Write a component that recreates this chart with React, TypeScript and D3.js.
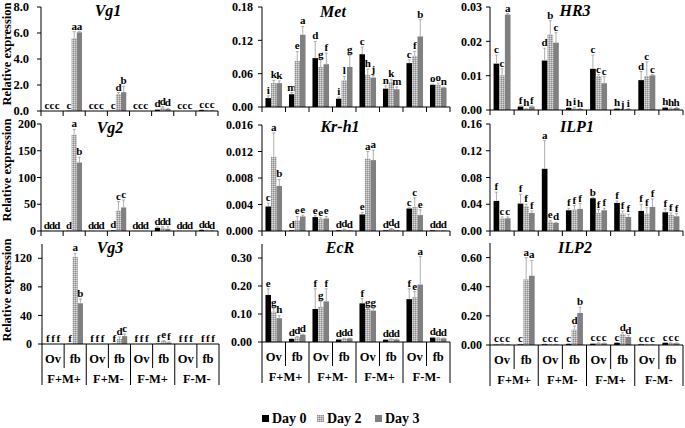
import * as d3 from "d3";

const FONT = "Liberation Serif, Times New Roman, DejaVu Serif, serif";

const treatments = ["F+M+", "F+M-", "F-M+", "F-M-"];
const tissues = ["Ov", "fb"];
const days = ["Day 0", "Day 2", "Day 3"];
const categories = treatments.flatMap((t) => tissues.map((s) => `${t} ${s}`));

// ---- Vg1
const vg1Mean = [[0, 0, 0], [0.02, 5.6, 6.05], [0, 0, 0], [0.02, 1.3, 1.45], [0, 0, 0], [0.1, 0.25, 0.15], [0, 0, 0], [0.08, 0.05, 0.03]];
const vg1Err = [[0, 0, 0], [0, 0.5, 0.06], [0, 0, 0], [0, 0.12, 0.45], [0, 0, 0], [0.02, 0.08, 0.05], [0, 0, 0], [0.01, 0.01, 0.01]];
const vg1Sig = [["c", "c", "c"], ["c", "a", "a"], ["c", "c", "c"], ["c", "d", "b"], ["c", "c", "c"], ["d", "d", "d"], ["c", "c", "c"], ["c", "c", "c"]];
const vg1Ticks = [0, 2, 4, 6, 8];

// ---- Met
const metMean = [[0.016, 0.043, 0.043], [0.023, 0.083, 0.13], [0.088, 0.072, 0.077], [0.015, 0.048, 0.072], [0.095, 0.058, 0.053], [0.033, 0.045, 0.032], [0.079, 0.092, 0.127], [0.04, 0.04, 0.035]];
const metErr = [[0.004, 0.005, 0.004], [0.003, 0.017, 0.015], [0.03, 0.013, 0.02], [0.003, 0.007, 0.021], [0.013, 0.01, 0.004], [0.005, 0.005, 0.004], [0.006, 0.008, 0.03], [0.001, 0.003, 0.001]];
const metSig = [["i", "k", "k"], ["m", "e", "a"], ["d", "g", "f"], ["i", "l", "g"], ["c", "h", "j"], ["n", "k", "m"], ["c", "f", "b"], ["o", "o", "n"]];
const metTicks = [0, 0.06, 0.12, 0.18];

// ---- HR3
const hr3Mean = [[0.0135, 0.0101, 0.0278], [0.001, 0.0004, 0.001], [0.0144, 0.022, 0.0196], [0.0006, 0.0005, 0.0003], [0.012, 0.0099, 0.0078], [0.0004, 0.0001, 0.0003], [0.0087, 0.0099, 0.0101], [0.0007, 0.0005, 0.0006]];
const hr3Err = [[0.0025, 0.0019, 0.0003], [0.0002, 0.0001, 0.0002], [0.0036, 0.004, 0.0029], [0.0001, 0.0003, 0.0001], [0.004, 0.0004, 0.0019], [0.0001, 0, 0.0001], [0.0025, 0.0041, 0.0002], [0.0001, 0.0001, 0.0001]];
const hr3Sig = [["c", "c", "a"], ["f", "h", "f"], ["d", "b", "c"], ["h", "i", "h"], ["c", "c", "c"], ["h", "j", "i"], ["d", "c", "c"], ["h", "h", "h"]];
const hr3Ticks = [0, 0.01, 0.02, 0.03];

// ---- Vg2
const vg2Mean = [[0.3, 0.3, 0.3], [0.5, 180, 128], [0.3, 0.3, 0.3], [1, 38, 44], [0.3, 0.3, 0.3], [6, 6, 4], [0.3, 0.3, 0.3], [2, 1, 0.5]];
const vg2Err = [[0, 0, 0], [0, 10, 10], [0, 0, 0], [0, 17, 14], [0, 0, 0], [2, 2, 4], [0, 0, 0], [0.5, 0.5, 0.3]];
const vg2Sig = [["d", "d", "d"], ["d", "a", "b"], ["d", "d", "d"], ["d", "c", "c"], ["d", "d", "d"], ["d", "d", "d"], ["d", "d", "d"], ["d", "d", "d"]];
const vg2Ticks = [0, 50, 100, 150, 200];

// ---- Kr-h1
const krMean = [[0.0037, 0.0112, 0.0068], [0.0001, 0.0016, 0.0022], [0.0021, 0.0018, 0.0019], [0.0001, 0.0002, 0.0001], [0.0025, 0.0109, 0.0107], [0.0001, 0.0003, 0.0001], [0.0034, 0.0036, 0.0024], [0.0001, 0.0001, 0.0001]];
const krErr = [[0.0005, 0.0036, 0.001], [0, 0.0006, 0.0002], [0.0002, 0.0002, 0.0003], [0, 0.0001, 0], [0.0003, 0.0011, 0.0015], [0, 0.0001, 0], [0.0001, 0.0014, 0.0008], [0, 0, 0]];
const krSig = [["c", "a", "b"], ["d", "e", "e"], ["e", "e", "e"], ["d", "d", "d"], ["e", "a", "a"], ["d", "d", "d"], ["c", "c", "e"], ["d", "d", "d"]];
const krTicks = [0, 0.004, 0.008, 0.012, 0.016];

// ---- ILP1
const ilp1Mean = [[0.045, 0.019, 0.019], [0.041, 0.037, 0.027], [0.093, 0.014, 0.012], [0.031, 0.032, 0.033], [0.049, 0.027, 0.031], [0.042, 0.026, 0.021], [0.03, 0.026, 0.036], [0.028, 0.024, 0.022]];
const ilp1Err = [[0.013, 0.002, 0.002], [0.014, 0.003, 0.003], [0.042, 0.002, 0.001], [0.003, 0.006, 0.008], [0.001, 0.005, 0.003], [0.003, 0.004, 0.004], [0.01, 0.009, 0.012], [0.005, 0.003, 0.004]];
const ilp1Sig = [["f", "c", "c"], ["f", "f", "f"], ["a", "e", "d"], ["f", "f", "f"], ["b", "f", "f"], ["f", "f", "f"], ["f", "f", "f"], ["f", "f", "f"]];
const ilp1Ticks = [0, 0.04, 0.08, 0.12, 0.16];

// ---- Vg3
const vg3Mean = [[0, 0, 0], [0.3, 122, 57], [0, 0, 0], [0.3, 7, 11], [0, 0, 0], [0.5, 4, 2], [0, 0, 0], [0, 0, 0]];
const vg3Err = [[0, 0, 0], [0, 5, 6], [0, 0, 0], [0, 3, 3], [0, 0, 0], [0, 1, 1], [0, 0, 0], [0, 0, 0]];
const vg3Sig = [["f", "f", "f"], ["f", "a", "b"], ["f", "f", "f"], ["f", "d", "c"], ["f", "f", "f"], ["f", "e", "f"], ["f", "f", "f"], ["f", "f", "f"]];
const vg3Ticks = [0, 40, 80, 120];

// ---- EcR
const ecrMean = [[0.168, 0.108, 0.085], [0.011, 0.017, 0.026], [0.118, 0.125, 0.145], [0.009, 0.012, 0.013], [0.138, 0.118, 0.112], [0.008, 0.01, 0.009], [0.153, 0.16, 0.205], [0.016, 0.014, 0.013]];
const ecrErr = [[0.022, 0.012, 0.01], [0.002, 0.003, 0.002], [0.072, 0.02, 0.045], [0.001, 0.001, 0.001], [0.017, 0.002, 0.008], [0.001, 0.001, 0.001], [0.037, 0.02, 0.1], [0.001, 0.001, 0.001]];
const ecrSig = [["e", "g", "h"], ["d", "d", "d"], ["f", "g", "f"], ["d", "d", "d"], ["f", "g", "g"], ["d", "d", "d"], ["f", "e", "a"], ["d", "d", "d"]];
const ecrTicks = [0, 0.1, 0.2, 0.3];

// ---- ILP2
const ilp2Mean = [[0.003, 0.006, 0.003], [0.005, 0.45, 0.475], [0.006, 0.004, 0.004], [0.008, 0.105, 0.22], [0.009, 0.012, 0.012], [0.015, 0.075, 0.055], [0.005, 0.004, 0.003], [0.015, 0.013, 0.012]];
const ilp2Err = [[0.001, 0.003, 0.001], [0.001, 0.15, 0.105], [0.001, 0.001, 0.001], [0.001, 0.025, 0.04], [0.002, 0.003, 0.002], [0.002, 0.01, 0.01], [0.001, 0.001, 0.001], [0.002, 0.002, 0.002]];
const ilp2Sig = [["c", "c", "c"], ["c", "a", "a"], ["c", "c", "c"], ["c", "d", "b"], ["c", "c", "c"], ["c", "d", "d"], ["c", "c", "c"], ["c", "c", "c"]];
const ilp2Ticks = [0, 0.2, 0.4, 0.6];

type Gene = {
  name: string; mean: number[][]; err: number[][]; sig: string[][];
  ticks: number[]; max: number; fmt: string;
  x0: number; x1: number; yTop: number; yZero: number; tx: number; ty: number;
  gap: number; tickSize: number; bottom?: boolean;
};

const genes: Gene[] = [
  { name: "Vg1", mean: vg1Mean, err: vg1Err, sig: vg1Sig, ticks: vg1Ticks, max: 8, fmt: ".1f", x0: 41, x1: 218, yTop: 7, yZero: 111, tx: 108, ty: 16, gap: 12, tickSize: 12.5 },
  { name: "Met", mean: metMean, err: metErr, sig: metSig, ticks: metTicks, max: 0.18, fmt: ".2f", x0: 262, x1: 450, yTop: 7, yZero: 107, tx: 333, ty: 17, gap: 9, tickSize: 12 },
  { name: "HR3", mean: hr3Mean, err: hr3Err, sig: hr3Sig, ticks: hr3Ticks, max: 0.03, fmt: ".2f", x0: 490, x1: 683, yTop: 7, yZero: 110, tx: 575, ty: 16, gap: 8, tickSize: 12 },
  { name: "Vg2", mean: vg2Mean, err: vg2Err, sig: vg2Sig, ticks: vg2Ticks, max: 200, fmt: "d", x0: 41, x1: 218, yTop: 124, yZero: 231, tx: 110, ty: 133, gap: 5, tickSize: 12 },
  { name: "Kr-h1", mean: krMean, err: krErr, sig: krSig, ticks: krTicks, max: 0.016, fmt: ".3f", x0: 262, x1: 450, yTop: 125, yZero: 231, tx: 340, ty: 132, gap: 9, tickSize: 12 },
  { name: "ILP1", mean: ilp1Mean, err: ilp1Err, sig: ilp1Sig, ticks: ilp1Ticks, max: 0.16, fmt: ".2f", x0: 490, x1: 683, yTop: 124, yZero: 231, tx: 577, ty: 132, gap: 8, tickSize: 12 },
  { name: "Vg3", mean: vg3Mean, err: vg3Err, sig: vg3Sig, ticks: vg3Ticks, max: 140, fmt: "d", x0: 42, x1: 219, yTop: 244, yZero: 344, tx: 110, ty: 253, gap: 10, tickSize: 12, bottom: true },
  { name: "EcR", mean: ecrMean, err: ecrErr, sig: ecrSig, ticks: ecrTicks, max: 0.35, fmt: ".2f", x0: 262, x1: 450, yTop: 244, yZero: 342, tx: 340, ty: 253, gap: 10, tickSize: 12, bottom: true },
  { name: "ILP2", mean: ilp2Mean, err: ilp2Err, sig: ilp2Sig, ticks: ilp2Ticks, max: 0.7, fmt: ".2f", x0: 490, x1: 683, yTop: 243, yZero: 345, tx: 575, ty: 253, gap: 8, tickSize: 12, bottom: true },
];

const dayFill = ["#000000", "url(#dots)", "#808080"];
const txt = { fontFamily: FONT, fontWeight: 700 } as const;

function Panel({ g }: { g: Gene }) {
  const x = d3.scaleBand().domain(categories).range([g.x0, g.x1]);
  const xd = d3.scaleBand().domain(days).range([0, x.bandwidth()]).paddingOuter(0.63);
  const y = d3.scaleLinear().domain([0, g.max]).range([g.yZero, g.yTop]);
  const fmt = d3.format(g.fmt);
  const bounds = d3.range(categories.length + 1).map((i) => g.x0 + i * x.step());

  return (
    <g>
      <text x={g.tx} y={g.ty} textAnchor="middle" style={{ ...txt, fontSize: 16, fontStyle: "italic" }}>{g.name}</text>
      {categories.map((c, i) =>
        days.map((d, j) => {
          const m = g.mean[i][j];
          const e = g.err[i][j];
          const bx = (x(c) as number) + (xd(d) as number);
          const bw = xd.bandwidth();
          const cx = bx + bw / 2;
          const top = y(m + e);
          return (
            <g key={c + d}>
              <rect x={bx} y={y(m)} width={bw} height={g.yZero - y(m)} fill={dayFill[j]} />
              {e > 0 && (
                <g stroke="#9a9a9a" strokeWidth={0.8}>
                  <line x1={cx} x2={cx} y1={y(m)} y2={top} />
                  <line x1={cx - 1.5} x2={cx + 1.5} y1={top} y2={top} />
                </g>
              )}
              <text x={cx} y={Math.min(top, g.yZero) - 2} textAnchor="middle" style={{ ...txt, fontSize: 11 }}>{g.sig[i][j]}</text>
            </g>
          );
        })
      )}
      <g stroke="#000" strokeWidth={1}>
        <line x1={g.x0} x2={g.x0} y1={g.yTop} y2={g.yZero} />
        <line x1={g.x0} x2={g.x1} y1={g.yZero} y2={g.yZero} />
        {g.ticks.map((t) => (
          <line key={t} x1={g.x0 - 4} x2={g.x0} y1={y(t)} y2={y(t)} />
        ))}
        {bounds.map((bx, i) => (
          <line key={i} x1={bx} x2={bx} y1={g.yZero} y2={g.yZero + (g.bottom ? (i % 2 === 0 ? 41 : 24) : 5)} />
        ))}
      </g>
      {g.ticks.map((t) => (
        <text key={t} x={g.x0 - g.gap} y={y(t)} dy="0.35em" textAnchor="end" style={{ ...txt, fontSize: g.tickSize }}>{fmt(t)}</text>
      ))}
      {g.bottom && categories.map((c, i) => (
        <text key={c} x={(x(c) as number) + x.bandwidth() / 2} y={g.yZero + 19} textAnchor="middle" style={{ ...txt, fontSize: 12.5 }}>{tissues[i % 2]}</text>
      ))}
      {g.bottom && treatments.map((t, i) => (
        <text key={t} x={g.x0 + (i * 2 + 1) * x.step()} y={g.yZero + 39} textAnchor="middle" style={{ ...txt, fontSize: 12.5 }}>{t}</text>
      ))}
    </g>
  );
}

export default function App() {
  const legendX = [262, 317, 375];
  return (
    <svg width={685} height={428} style={{ position: "absolute", left: 0, top: 0, background: "#fff" }}>
      <defs>
        <pattern id="dots" width={2} height={2} patternUnits="userSpaceOnUse">
          <rect width={2} height={2} fill="#b4b4b4" />
          <rect width={1} height={1} fill="#dcdcdc" />
          <rect x={1} y={1} width={1} height={1} fill="#8e8e8e" />
        </pattern>
      </defs>
      <rect width={685} height={428} fill="#fff" />
      {[54, 170, 290].map((cy) => (
        <text key={cy} transform={`translate(11,${cy}) rotate(-90)`} textAnchor="middle" style={{ ...txt, fontSize: 12.5 }}>Relative expression</text>
      ))}
      {genes.map((g) => <Panel key={g.name} g={g} />)}
      {days.map((d, j) => (
        <g key={d}>
          <rect x={legendX[j]} y={415} width={7} height={7} fill={dayFill[j]} />
          <text x={legendX[j] + 10} y={423} style={{ ...txt, fontSize: 14 }}>{d}</text>
        </g>
      ))}
    </svg>
  );
}
